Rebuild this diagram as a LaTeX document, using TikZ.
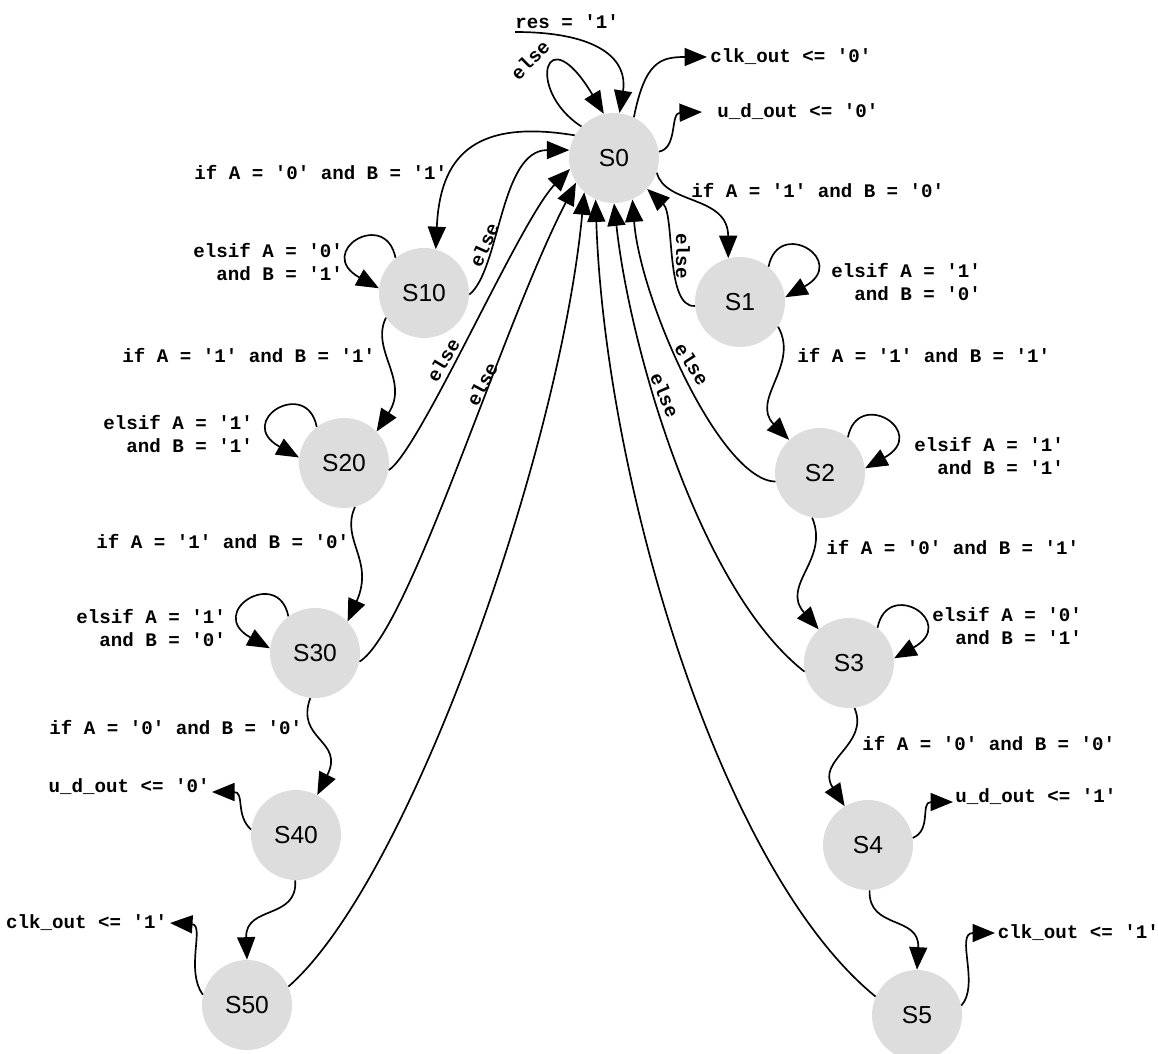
\documentclass[tikz,border=0pt]{standalone}
\usepackage{fontspec}
\setmainfont{Liberation Sans}
\newfontfamily\lblfont{Liberation Mono}
\usetikzlibrary{arrows.meta}
\definecolor{stgray}{RGB}{221,221,221}
\begin{document}
\begin{tikzpicture}[x=0.2mm,y=-0.2mm,
  state/.style={circle,fill=stgray,minimum size=18mm,inner sep=0pt,font=\fontsize{14}{16}\selectfont},
  lbl/.style={font=\lblfont\bfseries\fontsize{10.9}{13.1}\selectfont,inner sep=0pt},
  arr/.style={draw,line width=0.95pt,-{Triangle[length=4.5mm,width=3.6mm]}}]
\useasboundingbox (0,0) rectangle (1158,1054);
% states
\node[state] (S0) at (614,158) {S0};
\node[state] (S10) at (424,293) {S10};
\node[state] (S1) at (740,302) {S1};
\node[state] (S20) at (344,463) {S20};
\node[state] (S2) at (820,473) {S2};
\node[state] (S30) at (315,653) {S30};
\node[state] (S3) at (849,663) {S3};
\node[state] (S40) at (296,835) {S40};
\node[state] (S4) at (868,845) {S4};
\node[state] (S50) at (247,1005) {S50};
\node[state] (S5) at (917,1015) {S5};
% output texts
\node[lbl,anchor=west] (res) at (515,22) {res = '1'};
\coordinate (resS) at (515,32);
\node[lbl,anchor=west,inner sep=0.6mm] (clk0) at (707,57) {clk\_out <= '0'};
\node[lbl,anchor=west,inner xsep=3mm,inner ysep=0pt] (ud0) at (702,112) {u\_d\_out <= '0'};
\node[lbl,anchor=base west,inner sep=0.4mm] (ud1) at (953,802) {u\_d\_out <= '1'};
\node[lbl,anchor=west,inner sep=0.5mm] (clk1r) at (995,933) {clk\_out <= '1'};
\node[lbl,anchor=base east,inner sep=0.4mm] (ud0l) at (212,792) {u\_d\_out <= '0'};
\node[lbl,anchor=east,inner sep=0.5mm] (clk1l) at (170,923) {clk\_out <= '1'};
% condition labels
\node[lbl,anchor=west] (c01) at (691,191) {if A = '1' and B = '0'};
\node[lbl,anchor=west] (c12) at (797,356) {if A = '1' and B = '1'};
\node[lbl,anchor=west] (c23) at (826,548) {if A = '0' and B = '1'};
\node[lbl,anchor=west] (c34) at (862,744) {if A = '0' and B = '0'};
\node[lbl,anchor=west] (c010) at (194,173) {if A = '0' and B = '1'};
\node[lbl,anchor=west] (c1020) at (122,356) {if A = '1' and B = '1'};
\node[lbl,anchor=west] (c2030) at (96,542) {if A = '1' and B = '0'};
\node[lbl,anchor=west] (c3040) at (49,728) {if A = '0' and B = '0'};
\node[lbl,align=right,anchor=west] (l1) at (831,282) {elsif A = '1'\\and B = '0'};
\node[lbl,align=right,anchor=west] (l2) at (914,456) {elsif A = '1'\\and B = '1'};
\node[lbl,align=right,anchor=west] (l3) at (932,626) {elsif A = '0'\\and B = '1'};
\node[lbl,align=right,anchor=west] (l10) at (193,262) {elsif A = '0'\\and B = '1'};
\node[lbl,align=right,anchor=west] (l20) at (103,434) {elsif A = '1'\\and B = '1'};
\node[lbl,align=right,anchor=west] (l30) at (76,628) {elsif A = '1'\\and B = '0'};
% else labels
\node[lbl,rotate=45] (e0) at (530,60) {else};
\node[lbl,rotate=-90] (e1) at (683,256) {else};
\node[lbl,rotate=-57] (e2) at (692,364) {else};
\node[lbl,rotate=-67] (e3) at (665,395) {else};
\node[lbl,rotate=66] (e10) at (484,245) {else};
\node[lbl,rotate=59] (e20) at (443,360) {else};
\node[lbl,rotate=62] (e30) at (482,384) {else};
% connectors around S0
\draw[arr] (resS) .. controls (600,32) and (628,60) .. (S0.83);
\draw[arr] (S0.136) .. controls (525,90) and (545,15) .. (S0.103);
\draw[arr] (S0.64) .. controls (645,62) and (660,57) .. (clk0.west);
\draw[arr] (S0.8) .. controls (678,148) and (670,113) .. (ud0.west);
% right chain
\draw[arr] (S0.-19) .. controls (665,205) and (728,195) .. (S1.105);
\draw[arr] (S1.185) .. controls (665,308) and (675,215) .. (S0.317);
\draw[arr] (S1.51) .. controls +(10,-50) and +(65,-36) .. (S1.6);
\draw[arr] (S1.-33) .. controls (800,365) and (750,400) .. (S2.133);
\draw[arr] (S2.191) .. controls (720,480) and (640,300) .. (S0.294);
\draw[arr] (S2.52) .. controls +(10,-50) and +(65,-36) .. (S2.6);
\draw[arr] (S2.-100) .. controls (830,560) and (780,585) .. (S3.132);
\draw[arr] (S3.191) .. controls (700,590) and (630,350) .. (S0.270);
\draw[arr] (S3.51) .. controls +(10,-50) and +(65,-36) .. (S3.6);
\draw[arr] (S3.-83) .. controls (870,745) and (815,760) .. (S4.121);
\draw[arr] (S4.9) .. controls (932,830) and (920,802) .. (ud1.base west);
\draw[arr] (S4.-88) .. controls (868,930) and (920,915) .. (S5.90);
\draw[arr] (S5.12) .. controls (980,985) and (955,933) .. (clk1r.west);
\draw[arr] (S5.156) .. controls (720,870) and (605,480) .. (S0.246);
% left chain
\draw[arr] (S0.150) .. controls (470,118) and (440,160) .. (S10.75);
\draw[arr] (S10.-2) .. controls (500,270) and (500,150) .. (S0.170);
\draw[arr] (S10.129) .. controls +(-10,-50) and +(-65,-36) .. (S10.174);
\draw[arr] (S10.213) .. controls (370,350) and (410,380) .. (S20.44);
\draw[arr] (S20.127) .. controls +(-10,-50) and +(-65,-36) .. (S20.173);
\draw[arr] (S20.-9) .. controls (420,450) and (520,220) .. (S0.194);
\draw[arr] (S20.-76) .. controls (340,540) and (375,560) .. (S30.44);
\draw[arr] (S30.126) .. controls +(-10,-50) and +(-65,-36) .. (S30.174);
\draw[arr] (S30.-11) .. controls (410,630) and (500,330) .. (S0.213);
\draw[arr] (S30.-96) .. controls (295,740) and (345,740) .. (S40.62);
\draw[arr] (S40.173) .. controls (235,815) and (245,792) .. (ud0l.base east);
\draw[arr] (S40.-91) .. controls (298,920) and (245,905) .. (S50.90);
\draw[arr] (S50.167) .. controls (185,970) and (205,925) .. (clk1l.east);
\draw[arr] (S50.24) .. controls (410,880) and (560,450) .. (S0.229);
\end{tikzpicture}
\end{document}
